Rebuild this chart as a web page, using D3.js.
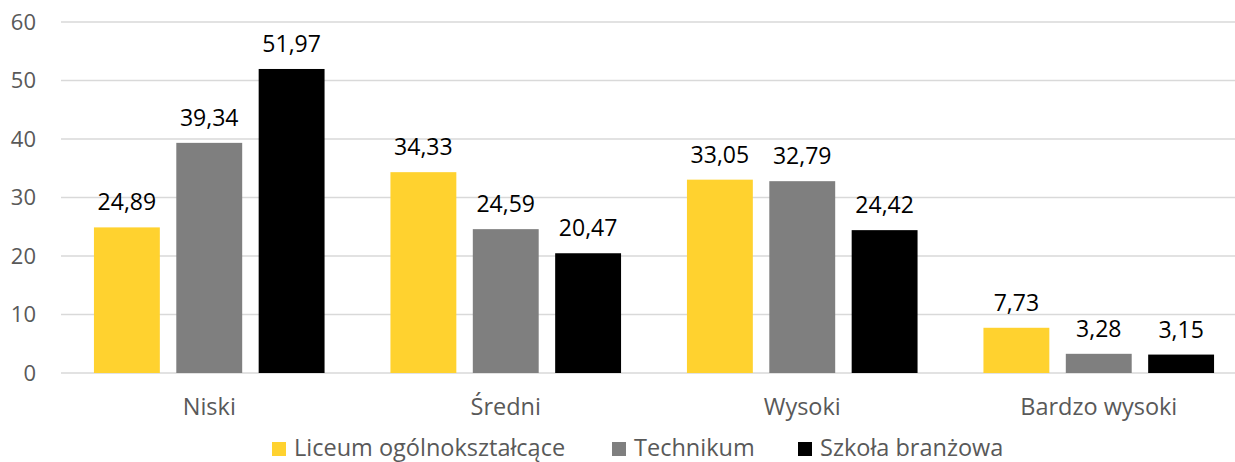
<!DOCTYPE html>
<html>
<head>
<meta charset="utf-8">
<script src="https://cdn.jsdelivr.net/npm/d3@7"></script>
<style>
  body { margin: 0; background: #fff; }
  text { font-family: "Open Sans", sans-serif; }
</style>
</head>
<body>
<svg id="chart" width="1235" height="462"></svg>
<script>
// categories and series
let categories = ['Niski', 'Średni', 'Wysoki', 'Bardzo wysoki']
let seriesNames = ['Liceum ogólnokształcące', 'Technikum', 'Szkoła branżowa']
let liceum = [24.89, 34.33, 33.05, 7.73]
let technikum = [39.34, 24.59, 32.79, 3.28]
let branzowa = [51.97, 20.47, 24.42, 3.15]
let yTicks = [0, 10, 20, 30, 40, 50, 60]
let colors = ['#FFD22F', '#7F7F7F', '#000000']

let allSeries = [liceum, technikum, branzowa]

let svg = d3.select('#chart')

// the plot runs a little past the right edge of the picture
let plotLeft = 61
let plotRight = 1247
let gridRight = 1235
let plotTop = 22
let plotBottom = 373

let xScale = d3.scaleBand()
    .domain(categories)
    .range([plotLeft, plotRight])

let xInner = d3.scaleBand()
    .domain(seriesNames)
    .range([0, xScale.bandwidth()])
    .paddingInner(0.2)
    .paddingOuter(0.4)

let yScale = d3.scaleLinear()
    .domain([0, 60])
    .range([plotBottom, plotTop])

// gridlines
svg.append('g')
    .selectAll('line')
    .data(yTicks)
    .enter()
    .append('line')
    .attr('x1', plotLeft)
    .attr('x2', gridRight)
    .attr('y1', (d) => yScale(d))
    .attr('y2', (d) => yScale(d))
    .attr('stroke', '#D9D9D9')
    .attr('stroke-width', 1.3)

// y axis labels
let yAxis = d3.axisLeft(yScale).tickValues(yTicks).tickSize(0).tickPadding(0)
let yG = svg.append('g')
    .attr('transform', 'translate(36,0)')
    .call(yAxis)
yG.select('.domain').remove()
yG.selectAll('text')
    .attr('fill', '#595959')
    .style('font-size', '22px')
    .style('font-family', '"Open Sans", sans-serif')

// x axis labels
let xAxis = d3.axisBottom(xScale).tickSize(0).tickPadding(0)
let xG = svg.append('g')
    .attr('transform', 'translate(0,' + plotBottom + ')')
    .call(xAxis)
xG.select('.domain').remove()
xG.selectAll('text')
    .attr('y', 42)
    .attr('dy', null)
    .attr('fill', '#595959')
    .style('font-size', '23.5px')
    .style('font-family', '"Open Sans", sans-serif')

// bars
let rows = []
categories.forEach((cat, i) => {
    seriesNames.forEach((name, j) => {
        rows.push({ cat: cat, name: name, value: allSeries[j][i], color: colors[j] })
    })
})

svg.append('g')
    .selectAll('rect')
    .data(rows)
    .enter()
    .append('rect')
    .attr('x', (d) => xScale(d.cat) + xInner(d.name))
    .attr('y', (d) => yScale(d.value))
    .attr('width', xInner.bandwidth())
    .attr('height', (d) => plotBottom - yScale(d.value))
    .attr('fill', (d) => d.color)

// value labels
svg.append('g')
    .selectAll('text')
    .data(rows)
    .enter()
    .append('text')
    .attr('x', (d) => xScale(d.cat) + xInner(d.name) + xInner.bandwidth() / 2)
    .attr('y', (d) => yScale(d.value) - 17)
    .attr('text-anchor', 'middle')
    .attr('fill', '#000')
    .style('font-size', '23px')
    .text((d) => d.value.toFixed(2).replace('.', ','))

// legend
let legendX = [272, 612, 798]
let legend = svg.append('g')
    .selectAll('g')
    .data(seriesNames)
    .enter()
    .append('g')
    .attr('transform', (d, i) => 'translate(' + legendX[i] + ',442)')

legend.append('rect')
    .attr('width', 14)
    .attr('height', 14)
    .attr('fill', (d, i) => colors[i])

legend.append('text')
    .attr('x', 22)
    .attr('y', 14)
    .attr('fill', '#595959')
    .style('font-size', '23.5px')
    .text((d) => d)
</script>
</body>
</html>
